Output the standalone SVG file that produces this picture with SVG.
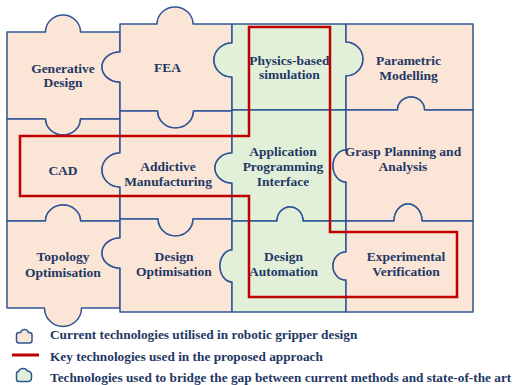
<svg xmlns="http://www.w3.org/2000/svg" width="516" height="385" viewBox="0 0 516 385">
  <style>
    .pc { fill: #FBE5D6; stroke: #2F5597; stroke-width: 1.5; stroke-linejoin: round; }
    .gr { fill: #E2F0D9; stroke: #2F5597; stroke-width: 1.5; stroke-linejoin: round; }
    .lb { font-family: "Liberation Serif", "DejaVu Serif", serif; font-weight: bold; font-size: 13.5px; fill: #1F3864; text-anchor: middle; }
    .lg { font-family: "Liberation Serif", "DejaVu Serif", serif; font-weight: bold; font-size: 13.3px; fill: #1F3864; }
    .key { fill: none; stroke: #C00000; stroke-width: 2.5; }
  </style>

  <!-- column 1 -->
  <g id="generative-design">
    <path class="pc" d="M7,32 H45.5 A17.5,17 0 0 1 80.5,32 H120 V52 A18,15 0 0 0 120,82 V119 H80.5 A17.5,16 0 0 1 45.5,119 H7 Z"/>
    <text class="lb" x="63" y="72.5">Generative</text>
    <text class="lb" x="63" y="87">Design</text>
  </g>
  <g id="cad">
    <path class="pc" d="M7,119 H45.5 A17.5,16 0 0 0 80.5,119 H120 V153 A18,17 0 0 0 120,187 V221 H80.5 A17.5,16 0 0 0 45.5,221 H7 Z"/>
    <text class="lb" x="63" y="175">CAD</text>
  </g>
  <g id="topology-optimisation">
    <path class="pc" d="M7,221 H45.5 A17.5,16 0 0 1 80.5,221 H120 V238 A18,15 0 0 0 120,268 V308 H81.5 A18,18 0 0 1 44.5,308 H7 Z"/>
    <text class="lb" x="63" y="261">Topology</text>
    <text class="lb" x="63" y="276.5">Optimisation</text>
  </g>

  <!-- column 2 -->
  <g id="fea">
    <path class="pc" d="M120,24 H157 A18,17 0 0 1 193,24 H232 V43 A18,17 0 0 0 232,77 V111 H193.5 A18,17 0 0 1 157.5,111 H120 V82 A18,15 0 0 1 120,52 Z"/>
    <text class="lb" x="167.5" y="72">FEA</text>
  </g>
  <g id="additive-manufacturing">
    <path class="pc" d="M120,111 H157.5 A18,17 0 0 0 193.5,111 H232 V153 A17,15 0 0 0 232,183 V219 H193 A17.5,17 0 0 1 158,219 H120 V187 A18,17 0 0 1 120,153 Z"/>
    <text class="lb" x="168" y="171">Addictive</text>
    <text class="lb" x="168" y="186">Manufacturing</text>
  </g>
  <g id="design-optimisation">
    <path class="pc" d="M120,219 H158 A17.5,17 0 0 0 193,219 H232 V250 A12,16 0 0 0 232,282 V312 H120 V268 A18,15 0 0 1 120,238 Z"/>
    <text class="lb" x="174" y="260.5">Design</text>
    <text class="lb" x="174" y="276">Optimisation</text>
  </g>

  <!-- column 3 -->
  <g id="physics-simulation">
    <path class="gr" d="M232,24 H346 V42 A17,17 0 0 1 346,76 V110 H232 V77 A18,17 0 0 1 232,43 Z"/>
    <text class="lb" x="289.5" y="64.5">Physics-based</text>
    <text class="lb" x="289.5" y="79">simulation</text>
  </g>
  <g id="api">
    <path class="gr" d="M232,110 H346 V150 A13,16 0 0 0 346,182 V221 H303 A13,14 0 0 0 277,221 H232 V183 A17,15 0 0 1 232,153 Z"/>
    <text class="lb" x="283" y="155.5">Application</text>
    <text class="lb" x="283" y="170.5">Programming</text>
    <text class="lb" x="283" y="185.5">Interface</text>
  </g>
  <g id="design-automation">
    <path class="gr" d="M232,221 H277 A13,14 0 0 1 303,221 H346 V252 A13,14 0 0 0 346,280 V312 H232 V282 A12,16 0 0 1 232,250 Z"/>
    <text class="lb" x="283.5" y="261">Design</text>
    <text class="lb" x="283.5" y="276">Automation</text>
  </g>

  <!-- column 4 -->
  <g id="parametric-modelling">
    <path class="pc" d="M346,24 H473 V110 H424.5 A13.5,13 0 0 0 397.5,110 H346 V76 A17,17 0 0 0 346,42 Z"/>
    <text class="lb" x="408.5" y="64.5">Parametric</text>
    <text class="lb" x="408.5" y="79.5">Modelling</text>
  </g>
  <g id="grasp-planning">
    <path class="pc" d="M346,110 H397.5 A13.5,13 0 0 1 424.5,110 H473 V221 H422 A14,17 0 0 0 394,221 H346 V182 A13,16 0 0 1 346,150 Z"/>
    <text class="lb" x="403" y="155.5">Grasp Planning and</text>
    <text class="lb" x="403" y="170.5">Analysis</text>
  </g>
  <g id="experimental-verification">
    <path class="pc" d="M346,221 H394 A14,17 0 0 1 422,221 H473 V312 H346 V280 A13,14 0 0 1 346,252 Z"/>
    <text class="lb" x="406" y="261">Experimental</text>
    <text class="lb" x="406" y="276">Verification</text>
  </g>

  <!-- outline of the key technologies -->
  <g id="connectors">
    <path class="key" d="M249,27 H330 V232 H457 V297 H249 V196 H20 V136 H249 Z"/>
  </g>

  <!-- legend -->
  <g id="legend">
    <path d="M19,343 Q16.5,343 16.5,340.5 V335 Q16.5,332.5 19,332.5 H20.5 Q21.5,329.5 24.5,329.5 Q27.5,329.5 28.5,332.5 H29.5 Q32,332.5 32,335 V340.5 Q32,343 29.5,343 Z" fill="#FBE5D6" stroke="#2F5597" stroke-width="1.5"/>
    <text class="lg" x="50" y="339">Current technologies utilised in robotic gripper design</text>
    <line x1="12" y1="355" x2="39" y2="355" stroke="#C00000" stroke-width="3"/>
    <text class="lg" x="50" y="360.5">Key technologies used in the proposed approach</text>
    <path d="M19,381.5 Q16.5,381.5 16.5,379 V374 Q16.5,371.5 18.5,371.5 Q19.5,368.5 23,368.5 Q26.5,368.5 27.5,371 Q31.5,371.5 31.5,375 V377.5 Q31.5,381.5 28,381.5 Z" fill="#E2F0D9" stroke="#2F5597" stroke-width="1.5"/>
    <text class="lg" x="50" y="381.5">Technologies used to bridge the gap between current methods and state-of-the art</text>
  </g>
</svg>
